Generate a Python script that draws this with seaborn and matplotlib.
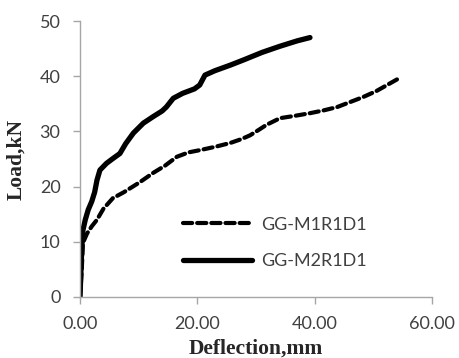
import matplotlib
matplotlib.use("Agg")
import matplotlib.pyplot as plt
import seaborn as sns
import pandas as pd

# GG-M1R1D1 (dashed)
m1_defl = [0.0, 0.3, 0.5, 1.2, 2.0, 2.9, 4.0, 5.6, 7.5, 10.2, 12.5, 14.5, 16.5, 18.5, 20.4, 23.0, 25.6, 27.5, 29.0, 30.5, 31.8, 34.1, 36.5, 39.2, 41.5, 43.8, 46.0, 48.2, 50.5, 52.5, 54.5]
m1_load = [0.0, 5.0, 9.8, 11.5, 12.8, 14.0, 16.0, 17.9, 19.0, 20.8, 22.5, 23.8, 25.4, 26.2, 26.6, 27.2, 27.9, 28.6, 29.3, 30.3, 31.2, 32.4, 32.8, 33.3, 33.8, 34.4, 35.3, 36.2, 37.3, 38.5, 39.7]

# GG-M2R1D1 (solid)
m2_defl = [0.0, 0.1, 0.2, 0.3, 0.5, 0.9, 1.4, 2.0, 2.5, 2.9, 3.4, 4.5, 5.5, 6.8, 7.8, 9.1, 10.8, 12.5, 14.0, 14.7, 15.9, 17.5, 19.5, 20.4, 21.3, 23.0, 25.6, 28.0, 31.0, 34.0, 37.0, 39.2]
m2_load = [0.0, 3.0, 6.0, 9.0, 12.1, 14.0, 15.8, 17.3, 19.0, 21.2, 23.0, 24.2, 25.0, 26.0, 27.8, 29.7, 31.5, 32.7, 33.7, 34.4, 36.0, 36.9, 37.7, 38.4, 40.2, 41.0, 42.0, 43.0, 44.3, 45.4, 46.4, 47.0]

series_names = ["GG-M1R1D1", "GG-M2R1D1"]
x_ticks = [0, 20, 40, 60]
x_ticklabels = ["0.00", "20.00", "40.00", "60.00"]
y_ticks = [0, 10, 20, 30, 40, 50]

df = pd.concat([
    pd.DataFrame({"Deflection": m1_defl, "Load": m1_load, "Specimen": series_names[0]}),
    pd.DataFrame({"Deflection": m2_defl, "Load": m2_load, "Specimen": series_names[1]}),
], ignore_index=True)

sns.set_style("white")
plt.rcParams["font.family"] = ["Lato", "DejaVu Sans"]

fig, ax = plt.subplots(figsize=(4.59, 3.58), dpi=100)

styles = [(series_names[0], (0, (2.2, 1.2)), 3.0), (series_names[1], "-", 3.8)]
for name, ls, lw in styles:
    sub = df[df["Specimen"] == name]
    sns.lineplot(data=sub, x="Deflection", y="Load", ax=ax, color="black",
                 linestyle=ls, linewidth=lw, label=name, sort=False, estimator=None,
                 solid_capstyle="round", dash_capstyle="round")

ax.set_xlim(0, 60)
ax.set_ylim(0, 50)
ax.set_xticks(x_ticks)
ax.set_xticklabels(x_ticklabels)
ax.set_yticks(y_ticks)

for side in ["top", "right"]:
    ax.spines[side].set_visible(False)
for side in ["left", "bottom"]:
    ax.spines[side].set_color("#a6a6a6")
    ax.spines[side].set_linewidth(1.0)

ax.tick_params(axis="both", direction="out", length=5, width=1.0, color="#a6a6a6",
               labelsize=13, labelcolor="#404040", left=True, bottom=True)
ax.tick_params(axis="x", pad=9)
ax.tick_params(axis="y", pad=9)

ax.set_xlabel("Deflection,mm", family=["Liberation Serif"], fontweight="bold", fontsize=15.5)
ax.set_ylabel("Load,kN", family=["Liberation Serif"], fontweight="bold", fontsize=15.5)
ax.xaxis.set_label_coords(0.5, -0.15)
ax.yaxis.set_label_coords(-0.152, 0.5)

leg = ax.legend(loc="center left", bbox_to_anchor=(0.293, 0.196), frameon=False, fontsize=13,
                handlelength=3.8, handletextpad=0.5, labelspacing=1.15,
                borderpad=0, borderaxespad=0)
for t in leg.get_texts():
    t.set_color("#404040")

fig.subplots_adjust(left=0.1743, right=0.9412, top=0.9413, bottom=0.1704)
fig.savefig("out.png", dpi=100)
